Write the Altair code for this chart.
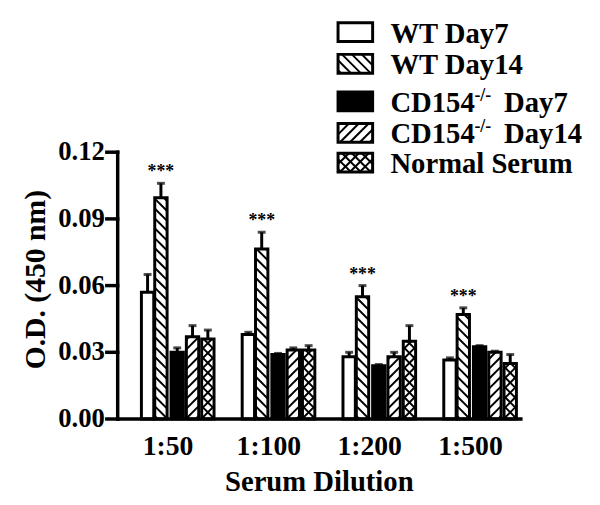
import json
import altair as alt
import pandas as pd

# ---------------- data ----------------
dilutions = ["1:50", "1:100", "1:200", "1:500"]
series = ["WT Day7", "WT Day14", "CD154-/- Day7", "CD154-/- Day14", "Normal Serum"]
y_ticks = [0.0, 0.03, 0.06, 0.09, 0.12]

wt_day7 = [0.057, 0.038, 0.028, 0.0265]
wt_day7_err = [0.008, 0.001, 0.002, 0.001]
wt_day14 = [0.0995, 0.0765, 0.055, 0.047]
wt_day14_err = [0.0065, 0.0075, 0.005, 0.003]
cd154_day7 = [0.030, 0.029, 0.024, 0.0325]
cd154_day7_err = [0.002, 0.0005, 0.0005, 0.0005]
cd154_day14 = [0.037, 0.031, 0.028, 0.030]
cd154_day14_err = [0.005, 0.001, 0.002, 0.0005]
normal_serum = [0.036, 0.031, 0.035, 0.025]
normal_serum_err = [0.004, 0.002, 0.007, 0.004]
significance = ["***", "***", "***", "***"]  # WT Day14 vs others

values = [wt_day7, wt_day14, cd154_day7, cd154_day14, normal_serum]
errors = [wt_day7_err, wt_day14_err, cd154_day7_err, cd154_day14_err, normal_serum_err]

# ---------------- style / layout ----------------
fills = ["white", "white", "black", "white", "white"]
patterns = [None, "\\", None, "/", "x"]
FONT = "Liberation Serif"

WIDTH, HEIGHT = 470, 405
PX_PER_GROUP = 102.0
PX_PER_OD = 2250.0
XMAX = WIDTH / PX_PER_GROUP
YMAX = HEIGHT / PX_PER_OD
X_ORIGIN, Y_ORIGIN = 119.0, 421.0  # page position of the axes' origin
BAR_OFFSETS_PX = [24, 37.5, 54, 69.5, 85]
BAR_W_PX = 12.5


def ux(page_x):
    return (page_x - X_ORIGIN) / PX_PER_GROUP


def uy(page_y):
    return (Y_ORIGIN - page_y) / PX_PER_OD


def hatch(x0, x1, y0, y1, kind, period=10.0):
    w = (x1 - x0) * PX_PER_GROUP
    h = (y1 - y0) * PX_PER_OD
    segs = []
    dirs = {"\\": [-1], "/": [1], "x": [1, -1]}[kind]
    for d in dirs:
        c = -w + period * 0.3
        while c < h:
            lo = max(0.0, -c)
            hi = min(w, h - c)
            if hi - lo > 0.3:
                u1, v1, u2, v2 = lo, lo + c, hi, hi + c
                if d == -1:
                    u1, u2 = w - u1, w - u2
                segs.append({"hx": x0 + u1 / PX_PER_GROUP, "hy": y0 + v1 / PX_PER_OD,
                             "hx2": x0 + u2 / PX_PER_GROUP, "hy2": y0 + v2 / PX_PER_OD})
            c += period
    return segs


box_rows, hatch_rows, err_rows, star_rows = [], [], [], []
for g, dil in enumerate(dilutions):
    for j, s in enumerate(series):
        x0 = g + BAR_OFFSETS_PX[j] / PX_PER_GROUP
        x1 = x0 + BAR_W_PX / PX_PER_GROUP
        v = values[j][g]
        e = errors[j][g]
        box_rows.append({"bx": x0, "bx2": x1, "by": 0.0, "by2": v, "series": s})
        if patterns[j]:
            hatch_rows += hatch(x0, x1, 0.0, v, patterns[j])
        err_rows.append({"ex": (x0 + x1) / 2, "ey": v, "ey2": v + e})
        if j == 1:
            star_rows.append({"sx": (x0 + x1) / 2, "sy": v + e, "txt": significance[g]})

# legend (drawn in the same coordinate system)
LEG_BASELINES = [40, 72, 110, 142, 172]
LEG_BOX_L, LEG_BOX_R, LEG_BOX_H = 342, 377, 19
LEG_TEXT_X, LEG_SUP_X, LEG_DAY_X = 395, 480, 510
legend_text, legend_sup = [], []
for j, s in enumerate(series):
    b = LEG_BASELINES[j]
    x0, x1 = ux(LEG_BOX_L), ux(LEG_BOX_R)
    y0, y1 = uy(b - 1), uy(b - 1 - LEG_BOX_H)
    box_rows.append({"bx": x0, "bx2": x1, "by": y0, "by2": y1, "series": s})
    if patterns[j]:
        hatch_rows += hatch(x0, x1, y0, y1, patterns[j])
    if s.startswith("CD154"):
        legend_text.append({"tx": ux(LEG_TEXT_X), "ty": uy(b), "txt": "CD154"})
        legend_sup.append({"tx": ux(LEG_SUP_X), "ty": uy(b - 11), "txt": "-/-"})
        legend_text.append({"tx": ux(LEG_DAY_X), "ty": uy(b), "txt": s.split(" ")[1]})
    else:
        legend_text.append({"tx": ux(LEG_TEXT_X), "ty": uy(b), "txt": s})

boxes = pd.DataFrame(box_rows)
hatches = pd.DataFrame(hatch_rows)
errs = pd.DataFrame(err_rows)
stars = pd.DataFrame(star_rows)
leg_txt = pd.DataFrame(legend_text)
leg_sup = pd.DataFrame(legend_sup)
axis_lines = pd.DataFrame([
    {"ax": 0.0, "ax2": 0.0, "ay": 0.0, "ay2": max(y_ticks)},
    {"ax": 0.0, "ax2": float(len(dilutions)), "ay": 0.0, "ay2": 0.0},
] + [{"ax": ux(108), "ax2": 0.0, "ay": t, "ay2": t} for t in y_ticks])
ylabels = pd.DataFrame([{"tx": ux(106), "ty": t, "txt": "%.2f" % t} for t in y_ticks])
xlabels = pd.DataFrame([{"tx": g + 0.5, "ty": uy(457), "txt": d}
                        for g, d in enumerate(dilutions)])
xtitle = pd.DataFrame([{"tx": len(dilutions) / 2, "ty": uy(494), "txt": "Serum Dilution"}])
ytitle = pd.DataFrame([{"tx": ux(45), "ty": uy(280), "txt": "O.D. (450 nm)"}])

xscale = alt.Scale(domain=[0, XMAX], nice=False, zero=False)
yscale = alt.Scale(domain=[0, YMAX], nice=False, zero=False)
fill_scale = alt.Scale(domain=series, range=fills)


def X(f):
    return alt.X(f, scale=xscale, axis=None)


def Y(f):
    return alt.Y(f, scale=yscale, axis=None)


err_layer = alt.Chart(errs).mark_rule(color="black", strokeWidth=3).encode(
    x=X("ex:Q"), y=Y("ey:Q"), y2="ey2:Q")
cap_layer = alt.Chart(errs).mark_tick(orient="horizontal", color="black",
                                      size=8, thickness=3).encode(
    x=X("ex:Q"), y=Y("ey2:Q"))
box_fill = alt.Chart(boxes).mark_rect(strokeWidth=0).encode(
    x=X("bx:Q"), x2="bx2:Q", y=Y("by:Q"), y2="by2:Q",
    fill=alt.Fill("series:N", scale=fill_scale, legend=None))
hatch_layer = alt.Chart(hatches).mark_rule(color="black", strokeWidth=2).encode(
    x=X("hx:Q"), x2="hx2:Q", y=Y("hy:Q"), y2="hy2:Q")
box_outline = alt.Chart(boxes).mark_rect(fillOpacity=0, stroke="black",
                                         strokeWidth=3).encode(
    x=X("bx:Q"), x2="bx2:Q", y=Y("by:Q"), y2="by2:Q")
axis_layer = alt.Chart(axis_lines).mark_rule(color="black", strokeWidth=3.5,
                                             strokeCap="square").encode(
    x=X("ax:Q"), x2="ax2:Q", y=Y("ay:Q"), y2="ay2:Q")


def text_layer(df, size, **kw):
    opts = dict(font=FONT, fontWeight="bold", fontSize=size, color="black",
                baseline="alphabetic")
    opts.update(kw)
    return alt.Chart(df).mark_text(**opts).encode(
        x=X("tx:Q"), y=Y("ty:Q"), text="txt:N")


star_layer = alt.Chart(stars).mark_text(font=FONT, fontWeight="bold", fontSize=18,
                                        color="black", dy=-6,
                                        baseline="alphabetic").encode(
    x=X("sx:Q"), y=Y("sy:Q"), text="txt:N")

chart = alt.layer(
    err_layer, cap_layer, box_fill, hatch_layer, box_outline, axis_layer,
    star_layer,
    text_layer(leg_txt, 29, align="left"),
    text_layer(leg_sup, 18, align="left"),
    text_layer(ylabels, 27, align="right", baseline="middle"),
    text_layer(xlabels, 28, align="center"),
    text_layer(xtitle, 29, align="center"),
    text_layer(ytitle, 30, align="center", angle=270),
).properties(
    width=WIDTH, height=HEIGHT,
    autosize=alt.AutoSizeParams(type="none"),
    padding={"left": 111, "top": 8, "right": 10, "bottom": 76},
    background="white",
).configure_view(stroke=None)

chart.save("out.html", embed_options={"renderer": "svg", "actions": False})
